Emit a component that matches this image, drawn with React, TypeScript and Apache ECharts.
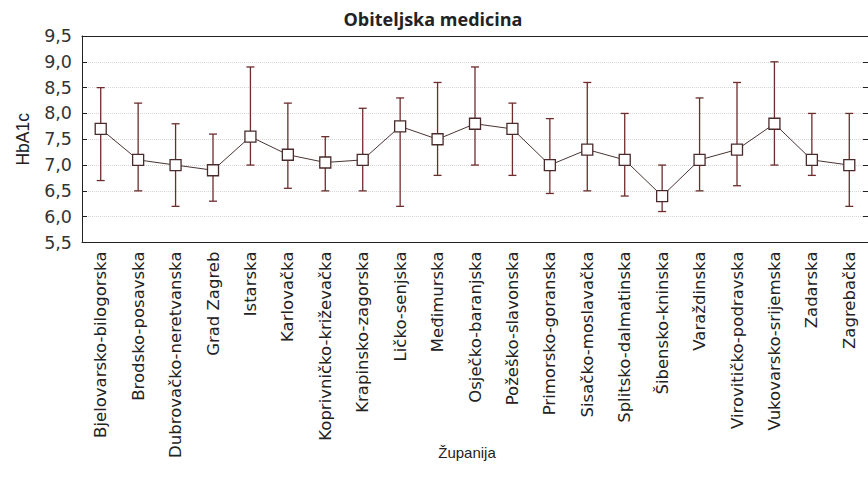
import React, { useEffect, useRef } from "react";
import * as echarts from "echarts";

const categories = [
  "Bjelovarsko-bilogorska",
  "Brodsko-posavska",
  "Dubrovačko-neretvanska",
  "Grad Zagreb",
  "Istarska",
  "Karlovačka",
  "Koprivničko-križevačka",
  "Krapinsko-zagorska",
  "Ličko-senjska",
  "Međimurska",
  "Osječko-baranjska",
  "Požeško-slavonska",
  "Primorsko-goranska",
  "Sisačko-moslavačka",
  "Splitsko-dalmatinska",
  "Šibensko-kninska",
  "Varaždinska",
  "Virovitičko-podravska",
  "Vukovarsko-srijemska",
  "Zadarska",
  "Zagrebačka",
];

const means = [7.7, 7.1, 7.0, 6.9, 7.55, 7.2, 7.05, 7.1, 7.75, 7.5, 7.8, 7.7, 7.0, 7.3, 7.1, 6.4, 7.1, 7.3, 7.8, 7.1, 7.0];
const lows = [6.7, 6.5, 6.2, 6.3, 7.0, 6.55, 6.5, 6.5, 6.2, 6.8, 7.0, 6.8, 6.45, 6.5, 6.4, 6.1, 6.5, 6.6, 7.0, 6.8, 6.2];
const highs = [8.5, 8.2, 7.8, 7.6, 8.9, 8.2, 7.55, 8.1, 8.3, 8.6, 8.9, 8.2, 7.9, 8.6, 8.0, 7.0, 8.3, 8.6, 9.0, 8.0, 8.0];

const yMin = 5.5;
const yMax = 9.5;
const yStep = 0.5;

const titleText = "Obiteljska medicina";
const xName = "Županija";
const yName = "HbA1c";

export default function App() {
  const ref = useRef<HTMLDivElement>(null);

  useEffect(() => {
    const chart = echarts.init(ref.current!, null, { renderer: "svg" });
    const errData = categories.map((_, i) => [i, lows[i], highs[i]]);
    const axisCol = "#222";
    const barCol = "#6e2c2c";

    chart.setOption({
      animation: false,
      backgroundColor: "#fff",
      title: {
        text: titleText,
        left: 428,
        textAlign: "center",
        top: 5,
        textStyle: {
          fontFamily: "Open Sans",
          fontWeight: "bold",
          fontSize: 18,
          color: "#222",
        },
      },
      graphic: [
        {
          type: "text",
          x: 467,
          y: 452,
          style: {
            text: xName,
            fontFamily: "Liberation Sans",
            fontSize: 15,
            fill: "#222",
            align: "center",
            verticalAlign: "middle",
          },
        },
      ],
      grid: {
        left: 82,
        top: 36,
        width: 786,
        height: 206.5,
        containLabel: false,
        outerBoundsMode: "none",
      },
      xAxis: [
        {
          type: "category",
          data: categories,
          position: "bottom",
          boundaryGap: true,
          axisLine: { lineStyle: { color: axisCol, width: 1 } },
          axisTick: { inside: true, length: 5, alignWithLabel: true, lineStyle: { color: axisCol } },
          axisLabel: {
            rotate: 90,
            interval: 0,
            margin: 9,
            fontFamily: "DejaVu Sans",
            fontSize: 16.5,
            color: "#222",
          },
          splitLine: { show: false },
        },
        {
          type: "category",
          data: categories,
          position: "top",
          boundaryGap: true,
          axisLine: { lineStyle: { color: axisCol, width: 1 } },
          axisTick: { inside: true, length: 5, alignWithLabel: true, lineStyle: { color: axisCol } },
          axisLabel: { show: false },
          splitLine: { show: false },
        },
      ],
      yAxis: [
        {
          type: "value",
          min: yMin,
          max: yMax,
          interval: yStep,
          position: "left",
          name: yName,
          nameLocation: "middle",
          nameGap: 50,
          nameMoveOverlap: false,
          nameTextStyle: { fontFamily: "Liberation Sans", fontSize: 17.5, color: "#222" },
          axisLine: { show: true, lineStyle: { color: axisCol, width: 1 } },
          axisTick: { show: true, inside: true, length: 5, lineStyle: { color: axisCol } },
          axisLabel: {
            margin: 10,
            fontFamily: "DejaVu Sans",
            fontSize: 17.5,
            color: "#333",
            formatter: (v: number) => v.toFixed(1).replace(".", ","),
          },
          splitLine: { show: true, lineStyle: { color: "#d6d6d6", type: "dotted", width: 1 } },
        },
        {
          type: "value",
          min: yMin,
          max: yMax,
          interval: yStep,
          position: "right",
          axisLine: { show: true, lineStyle: { color: axisCol, width: 1 } },
          axisTick: { show: true, inside: true, length: 5, lineStyle: { color: axisCol } },
          axisLabel: { show: false },
          splitLine: { show: false },
        },
      ],
      series: [
        {
          type: "custom",
          xAxisIndex: 0,
          yAxisIndex: 0,
          z: 2,
          data: errData,
          encode: { x: 0, y: [1, 2] },
          renderItem: (params: any, api: any) => {
            const x = api.value(0);
            const lo = api.coord([x, api.value(1)]);
            const hi = api.coord([x, api.value(2)]);
            const hw = 4;
            const style = { stroke: barCol, lineWidth: 1.3 };
            return {
              type: "group",
              children: [
                { type: "line", shape: { x1: lo[0], y1: lo[1], x2: hi[0], y2: hi[1] }, style },
                { type: "line", shape: { x1: lo[0] - hw, y1: lo[1], x2: lo[0] + hw, y2: lo[1] }, style },
                { type: "line", shape: { x1: hi[0] - hw, y1: hi[1], x2: hi[0] + hw, y2: hi[1] }, style },
              ],
            };
          },
        },
        {
          type: "line",
          xAxisIndex: 0,
          yAxisIndex: 0,
          z: 3,
          data: means,
          symbol: "rect",
          symbolSize: 11,
          showAllSymbol: true,
          lineStyle: { color: "#4a3434", width: 1 },
          itemStyle: { color: "#fff", borderColor: "#4a2a2a", borderWidth: 1.3 },
        },
      ],
    });
    return () => chart.dispose();
  }, []);

  return (
    <div
      ref={ref}
      style={{ position: "absolute", left: 0, top: 0, width: 868, height: 492, background: "#fff" }}
    />
  );
}
